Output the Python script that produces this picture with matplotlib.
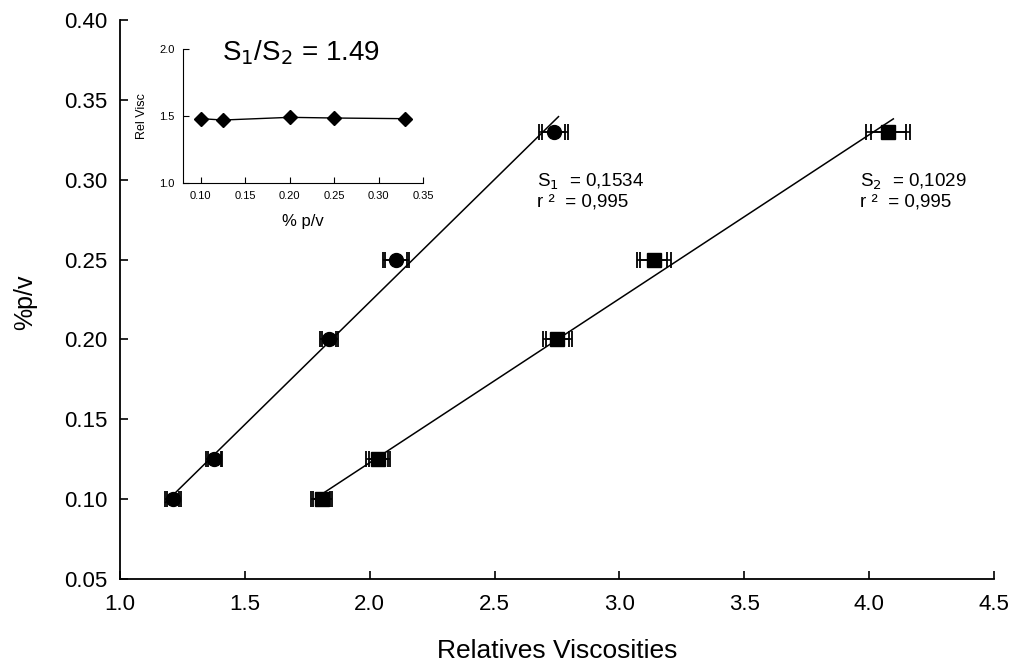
import numpy as np
import matplotlib.pyplot as plt

plt.rcParams['font.family'] = ['Liberation Sans', 'DejaVu Sans']

# donnees
pv = [0.10, 0.125, 0.20, 0.25, 0.33]
visc1 = [1.2125, 1.377, 1.838, 2.105, 2.736]
err1 = [0.032, 0.032, 0.036, 0.053, 0.060]
visc2 = [1.808, 2.034, 2.752, 3.137, 4.077]
err2 = [0.042, 0.048, 0.060, 0.068, 0.088]

inset_pv = [0.10, 0.125, 0.20, 0.25, 0.33]
inset_rel = [1.48, 1.47, 1.49, 1.485, 1.48]


def trace_serie(ax, x, y, err, marker, ms):
    x = np.array(x)
    y = np.array(y)
    err = np.array(err)
    # barres doublees comme sur l'original
    for f in (1.0, 0.8):
        ax.errorbar(x, y, xerr=err * f, fmt='none', ecolor='black',
                    elinewidth=1.2, capsize=6, capthick=1.3)
    ax.plot(x, y, linestyle='none', marker=marker, color='black', ms=ms)
    a, b = np.polyfit(x, y, 1)
    xx = np.array([x.min() - 0.03, x.max() + 0.02])
    ax.plot(xx, a * xx + b, color='black', lw=1.1)


fig = plt.figure(figsize=(10.13, 6.64), dpi=100)
ax = fig.add_axes([0.1185, 0.128, 0.8627, 0.842])

trace_serie(ax, visc1, pv, err1, 'o', 10)
trace_serie(ax, visc2, pv, err2, 's', 10)

ax.set_xlim(1.0, 4.5)
ax.set_ylim(0.05, 0.40)
ax.set_xticks(np.arange(1.0, 4.51, 0.5))
ax.set_yticks(np.arange(0.05, 0.401, 0.05))
ax.xaxis.set_major_formatter(plt.FormatStrFormatter('%.1f'))
ax.yaxis.set_major_formatter(plt.FormatStrFormatter('%.2f'))
ax.tick_params(direction='in', length=6, width=1.2, labelsize=16)
ax.tick_params(axis='x', pad=11)
ax.tick_params(axis='y', pad=9)
ax.spines['top'].set_visible(False)
ax.spines['right'].set_visible(False)
ax.spines['left'].set_linewidth(1.3)
ax.spines['bottom'].set_linewidth(1.3)
ax.set_xlabel('Relatives Viscosities', fontsize=19)
ax.set_ylabel('%p/v', fontsize=18)
ax.xaxis.set_label_coords(0.5, -0.108)
ax.yaxis.set_label_coords(-0.095, 0.495)

ax.text(2.67, 0.2986, 'S$_1$  = 0,1534', fontsize=13.5, va='center')
ax.text(2.67, 0.2861, 'r ²  = 0,995', fontsize=13.5, va='center')
ax.text(3.964, 0.2986, 'S$_2$  = 0,1029', fontsize=13.5, va='center')
ax.text(3.964, 0.2861, 'r ²  = 0,995', fontsize=13.5, va='center')

# encart
axi = fig.add_axes([0.1807, 0.7244, 0.237, 0.2018])
axi.plot(inset_pv, inset_rel, color='black', marker='D', ms=7, lw=1)
axi.set_xlim(0.08, 0.35)
axi.set_ylim(1.0, 2.0)
axi.set_xticks(np.arange(0.10, 0.351, 0.05))
axi.set_yticks([1.0, 1.5, 2.0])
axi.xaxis.set_major_formatter(plt.FormatStrFormatter('%.2f'))
axi.yaxis.set_major_formatter(plt.FormatStrFormatter('%.1f'))
axi.tick_params(direction='in', length=4, labelsize=8, pad=6)
axi.spines['top'].set_visible(False)
axi.spines['right'].set_visible(False)
axi.set_xlabel('% p/v', fontsize=12, labelpad=9)
axi.set_ylabel('Rel Visc', fontsize=9, labelpad=8)
axi.text(0.213, 1.97, 'S$_1$/S$_2$ = 1.49', fontsize=20, ha='center', va='center')

fig.savefig('out.png', dpi=100)
